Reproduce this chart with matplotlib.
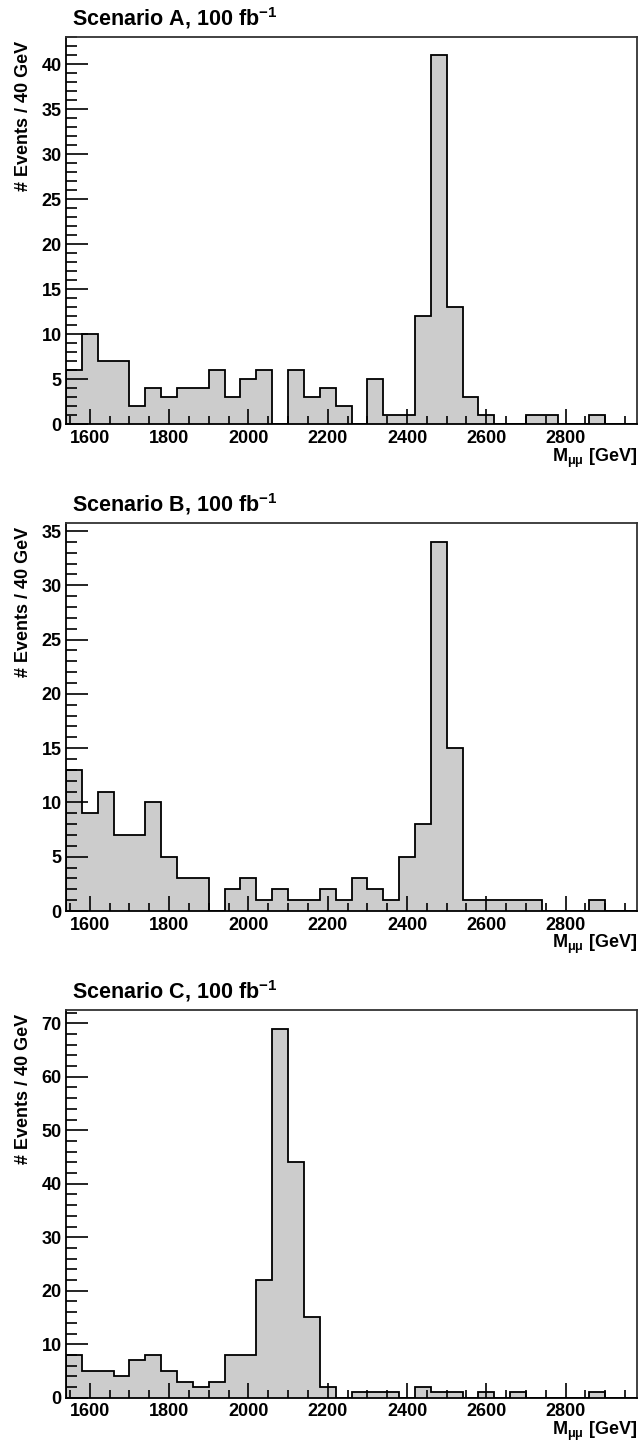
import numpy as np
import matplotlib
matplotlib.use('Agg')
import matplotlib.pyplot as plt
from matplotlib.ticker import MultipleLocator

plt.rcParams['font.family'] = ['Liberation Sans', 'DejaVu Sans']
plt.rcParams['font.weight'] = 'bold'
plt.rcParams['mathtext.fontset'] = 'custom'
plt.rcParams['mathtext.rm'] = 'Liberation Sans:bold'
plt.rcParams['mathtext.bf'] = 'Liberation Sans:bold'
plt.rcParams['mathtext.it'] = 'Liberation Sans:bold:italic'

# 40 GeV bins from 1540 to 2980 GeV
edges = np.arange(1540, 2981, 40)

scen_a = [6, 10, 7, 7, 2, 4, 3, 4, 4, 6, 3, 5, 6, 0, 6, 3, 4, 2,
          0, 5, 1, 1, 12, 41, 13, 3, 1, 0, 0, 1, 1, 0, 0, 1, 0, 0]
scen_b = [13, 9, 11, 7, 7, 10, 5, 3, 3, 0, 2, 3, 1, 2, 1, 1, 2, 1,
          3, 2, 1, 5, 8, 34, 15, 1, 1, 1, 1, 1, 0, 0, 0, 1, 0, 0]
scen_c = [8, 5, 5, 4, 7, 8, 5, 3, 2, 3, 8, 8, 22, 69, 44, 15, 2, 0,
          1, 1, 1, 0, 2, 1, 1, 0, 1, 0, 1, 0, 0, 0, 0, 1, 0, 0]

titles = ['Scenario A', 'Scenario B', 'Scenario C']
series = [scen_a, scen_b, scen_c]
ymajor = [5, 5, 10]
yminor = [1, 1, 2]

W, H = 640, 1444
fig = plt.figure(figsize=(W / 100, H / 100), dpi=100)

ax_left, ax_right = 66, 637
ax_h = 387.6
bottoms = [424.3, 911.0, 1397.7]

for name, vals, maj, mnr, yb in zip(titles, series, ymajor, yminor, bottoms):
    ax = fig.add_axes([ax_left / W, (H - yb) / H, (ax_right - ax_left) / W, ax_h / H])
    vals = np.array(vals)
    ax.stairs(vals, edges, fill=True, color='#cccccc', baseline=0)
    ax.stairs(vals, edges, color='black', linewidth=1.3, baseline=0)
    ax.set_xlim(edges[0], edges[-1])
    ax.set_ylim(0, vals.max() * 1.05)

    ax.xaxis.set_major_locator(MultipleLocator(200))
    ax.xaxis.set_minor_locator(MultipleLocator(50))
    ax.yaxis.set_major_locator(MultipleLocator(maj))
    ax.yaxis.set_minor_locator(MultipleLocator(mnr))
    ax.tick_params(axis='both', which='both', direction='in', top=False, right=False,
                   labelsize=13, width=1.2)
    ax.tick_params(axis='x', which='major', length=11, pad=4)
    ax.tick_params(axis='x', which='minor', length=6)
    ax.tick_params(axis='y', which='major', length=16, pad=3)
    ax.tick_params(axis='y', which='minor', length=8)
    for lab in ax.get_xticklabels() + ax.get_yticklabels():
        lab.set_fontweight('bold')
    for sp in ax.spines.values():
        sp.set_linewidth(1.3)
        sp.set_color('black')
    ax.spines['top'].set_color('#333333')
    ax.spines['right'].set_color('#333333')

    ax.text(0.01, 1.0 + 19 / ax_h, name + r', 100 fb$^{\mathbf{-1}}$', transform=ax.transAxes,
            ha='left', va='center', fontsize=15.5, fontweight='bold')
    ax.text(-43 / (ax_right - ax_left), 0.99, '# Events / 40 GeV', transform=ax.transAxes,
            rotation=90, ha='center', va='top', fontsize=13, fontweight='bold')
    ax.text(1.0, -22 / ax_h, r'M$_{\mathrm{\mu\mu}}$ [GeV]', transform=ax.transAxes,
            ha='right', va='top', fontsize=13, fontweight='bold')

fig.savefig('out.png', dpi=100)
